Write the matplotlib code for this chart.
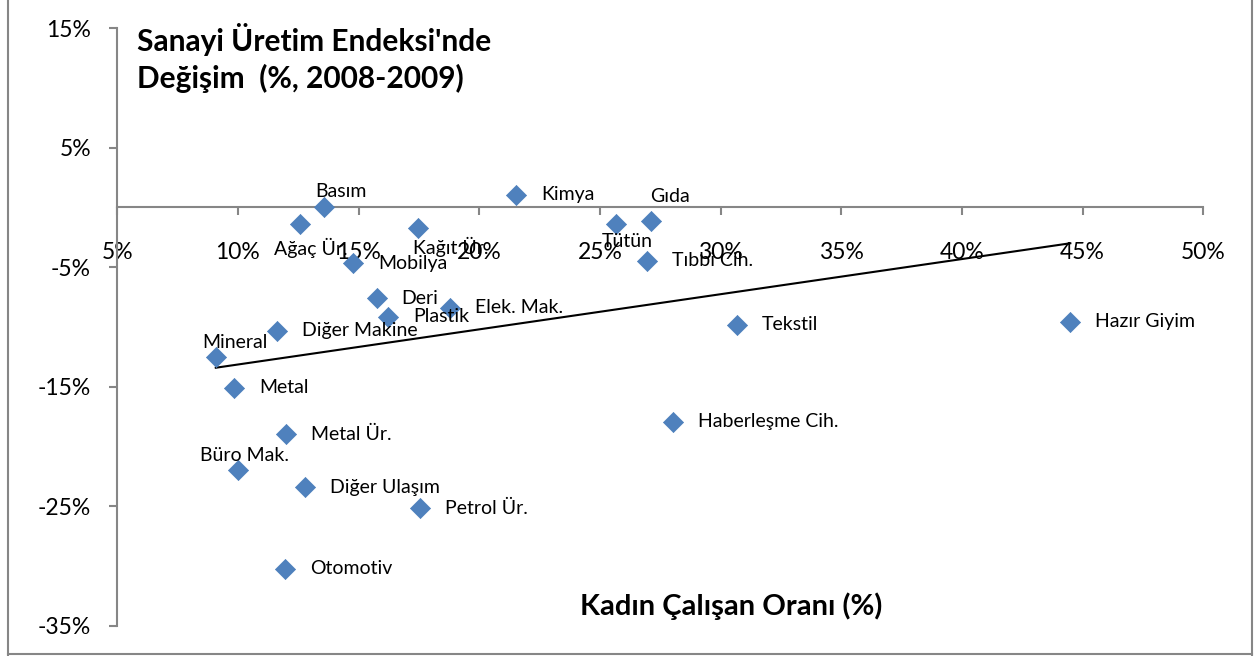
import numpy as np
import matplotlib
matplotlib.use("Agg")
import matplotlib.pyplot as plt
from matplotlib.lines import Line2D
from matplotlib.ticker import FuncFormatter

plt.rcParams['font.family'] = ['Lato', 'DejaVu Sans']

# sector data: female employment share (%) vs change in industrial production index (%)
sectors = ['Mineral', 'Metal', 'Büro Mak.', 'Metal Ür.', 'Otomotiv', 'Diğer Ulaşım',
           'Petrol Ür.', 'Diğer Makine', 'Ağaç Ür.', 'Basım', 'Kağıt Ür.', 'Mobilya',
           'Deri', 'Plastik', 'Elek. Mak.', 'Kimya', 'Tütün', 'Gıda', 'Tıbbi Cih.',
           'Haberleşme Cih.', 'Tekstil', 'Hazır Giyim']
women_share = [9.08, 9.84, 9.99, 11.99, 11.95, 12.78, 17.54, 11.63, 12.57, 13.58, 17.47,
               14.78, 15.75, 16.23, 18.79, 21.52, 25.67, 27.11, 26.94, 28.03, 30.68, 44.49]
prod_change = [-12.48, -15.08, -21.96, -18.97, -30.22, -23.41, -25.17, -10.31, -1.38, 0.07,
               -1.74, -4.67, -7.59, -9.13, -8.38, 1.05, -1.38, -1.10, -4.47, -17.95, -9.83, -9.55]

# label placement (pixel offset from marker, horizontal alignment)
right = ((25, 0), 'left')
label_pos = {
    'Mineral': ((19, 14), 'center'),
    'Büro Mak.': ((7, 14), 'center'),
    'Ağaç Ür.': ((11, -24), 'center'),
    'Basım': ((17, 15), 'center'),
    'Kağıt Ür.': ((33, -19), 'center'),
    'Gıda': ((19, 24), 'center'),
    'Tütün': ((11, -18), 'center'),
}

fig = plt.figure(figsize=(12.6, 6.56), dpi=100)
ax = fig.add_axes([0.0931, 0.0462, 0.8619, 0.9107])

ax.scatter(women_share, prod_change, marker='D', s=105, color='#4f81bd',
           edgecolors='#4a7ebb', linewidths=0.5, zorder=3)

# linear trend line
x = np.array(women_share)
y = np.array(prod_change)
k, b = np.polyfit(x, y, 1)
xs = np.array([x.min(), x.max()])
ax.plot(xs, k * xs + b, color='black', lw=1.5, zorder=2)

for name, xv, yv in zip(sectors, women_share, prod_change):
    (dx, dy), ha = label_pos.get(name, right)
    ax.annotate(name, (xv, yv), xytext=(dx, dy), textcoords='offset pixels',
                ha=ha, va='center', fontsize=14, color='black', zorder=4)

ax.set_xlim(5, 50)
ax.set_ylim(-35, 15)
ax.set_xticks(np.arange(5, 51, 5))
ax.set_yticks(np.arange(-35, 16, 10))
pct = FuncFormatter(lambda v, p: f'{v:.0f}%')
ax.xaxis.set_major_formatter(pct)
ax.yaxis.set_major_formatter(pct)

for s in ['top', 'right']:
    ax.spines[s].set_visible(False)
ax.spines['bottom'].set_position(('data', 0))
for s in ['left', 'bottom']:
    ax.spines[s].set_color('#868686')
    ax.spines[s].set_linewidth(1.5)
ax.tick_params(axis='both', colors='#868686', width=1.5, length=6, labelcolor='black',
               labelsize=16.5)
ax.tick_params(axis='x', direction='out', pad=19)
ax.tick_params(axis='y', direction='out', pad=13)

ax.text(0.018, 1.008, "Sanayi Üretim Endeksi'nde\nDeğişim  (%, 2008-2009)",
        transform=ax.transAxes, ha='left', va='top', fontsize=21.5,
        fontweight='bold', linespacing=1.3)
ax.text(0.565, 0.032, 'Kadın Çalışan Oranı (%)', transform=ax.transAxes,
        ha='center', va='center', fontsize=21, fontweight='bold')

# outer chart frame
for xx, yy in [([0.0065, 0.0065], [0, 1.01]), ([0.9935, 0.9935], [0, 1.01]),
               ([0.0065, 0.9935], [0.003, 0.003])]:
    fig.add_artist(Line2D(xx, yy, transform=fig.transFigure, color='#868686', lw=1.5))

fig.savefig('out.png', dpi=100)
